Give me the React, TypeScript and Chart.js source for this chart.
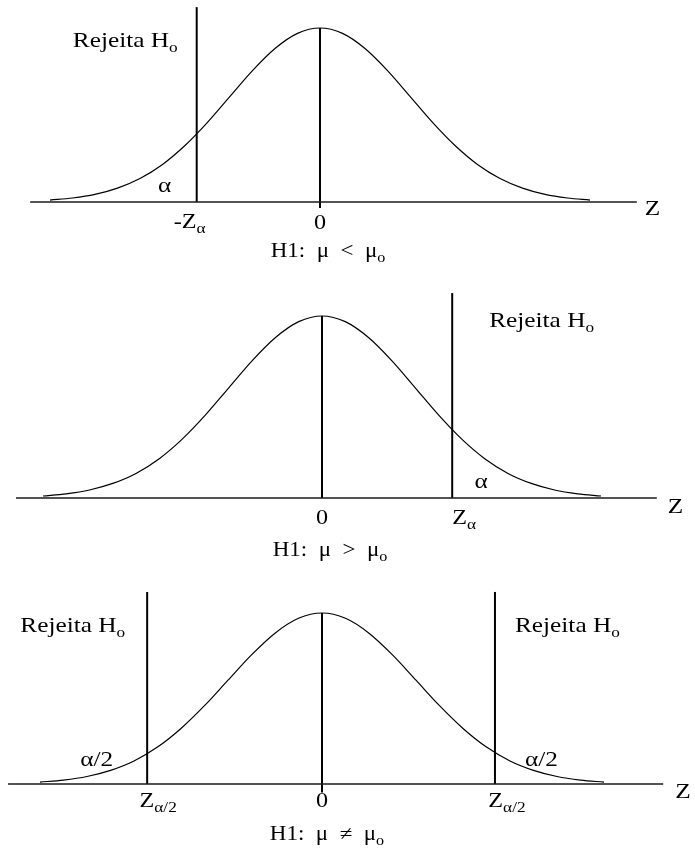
import React, { useEffect, useRef } from "react";
import { Chart, registerables } from "chart.js";

Chart.register(...registerables);

// Standard normal density (peak scaled to 1), sampled every 0.25 in z
const curveZ = [-3, -2.75, -2.5, -2.25, -2, -1.75, -1.5, -1.25, -1, -0.75, -0.5, -0.25, 0, 0.25, 0.5, 0.75, 1, 1.25, 1.5, 1.75, 2, 2.25, 2.5, 2.75, 3];
const curveH = [0.011, 0.023, 0.044, 0.08, 0.135, 0.216, 0.325, 0.458, 0.607, 0.755, 0.882, 0.969, 1, 0.969, 0.882, 0.755, 0.607, 0.458, 0.325, 0.216, 0.135, 0.08, 0.044, 0.023, 0.011];

// Critical values of each test
const critLower = [-1.37];
const critUpper = [1.4];
const critTwoSided = [-1.86, 1.84];

// Hypothesis captions (the subscript "o" is added when drawn)
const hypotheses = ["H1:  μ  <  μ", "H1:  μ  >  μ", "H1:  μ  ≠  μ"];
const rejectText = "Rejeita H";

const FONT = '"Liberation Serif", "Times New Roman", serif';
const STRETCH = 1.15;

type Part = { t: string; sub?: boolean };
type Label = {
  parts: Part[];
  x: number;
  y: number;
  dx?: number;
  dy?: number;
  align?: "left" | "center" | "right";
  size?: number;
  subSize?: number;
  subDrop?: number;
};

type Panel = {
  top: number;
  height: number;
  pad: { left: number; right: number; top: number; bottom: number };
  crits: number[];
  axis: [number, number];
  stemBottom: number;
  critTop: number;
  labels: Label[];
};

const rej: Part[] = [{ t: rejectText }, { t: "o", sub: true }];
const hyp = (i: number): Part[] => [{ t: hypotheses[i] }, { t: "o", sub: true }];
const TICK = 21;
const CAP = 20;

const panels: Panel[] = [
  {
    top: 0,
    height: 270,
    pad: { left: 50, right: 105, top: 28, bottom: 68 },
    crits: critLower,
    axis: [-3.22, 3.52],
    stemBottom: -0.035,
    critTop: 1.12,
    labels: [
      { parts: rej, x: critLower[0], y: 0.891, dx: -19, align: "right" },
      { parts: [{ t: "α" }], x: critLower[0], y: 0, dx: -32, dy: -10, align: "center" },
      { parts: [{ t: "-Z" }, { t: "α", sub: true }], x: critLower[0], y: 0, dx: -7, dy: 26, align: "center", size: TICK },
      { parts: [{ t: "0" }], x: 0, y: 0, dy: 27, align: "center", size: TICK },
      { parts: hyp(0), x: 0, y: 0, dx: 8, dy: 55, align: "center", size: CAP, subSize: 14 },
      { parts: [{ t: "Z" }], x: 3.52, y: 0, dx: 8, dy: 13, align: "left" },
    ],
  },
  {
    top: 270,
    height: 300,
    pad: { left: 43, right: 94, top: 46, bottom: 72 },
    crits: critUpper,
    axis: [-3.29, 3.6],
    stemBottom: 0,
    critTop: 1.126,
    labels: [
      { parts: rej, x: critUpper[0], y: 0.94, dx: 37, align: "left" },
      { parts: [{ t: "α" }], x: critUpper[0], y: 0, dx: 29, dy: -10, align: "center" },
      { parts: [{ t: "Z" }, { t: "α", sub: true }], x: critUpper[0], y: 0, dx: 12, dy: 26, align: "center", size: TICK },
      { parts: [{ t: "0" }], x: 0, y: 0, dy: 26, align: "center", size: TICK },
      { parts: hyp(1), x: 0, y: 0, dx: 8, dy: 58, align: "center", size: CAP, subSize: 14 },
      { parts: [{ t: "Z" }], x: 3.6, y: 0, dx: 11, dy: 15, align: "left" },
    ],
  },
  {
    top: 570,
    height: 278,
    pad: { left: 40, right: 91, top: 43, bottom: 64 },
    crits: critTwoSided,
    axis: [-3.34, 3.63],
    stemBottom: -0.05,
    critTop: 1.123,
    labels: [
      { parts: rej, x: critTwoSided[0], y: 0.889, dx: -22, align: "right" },
      { parts: rej, x: critTwoSided[1], y: 0.889, dx: 20, align: "left" },
      { parts: [{ t: "α/2" }], x: critTwoSided[0], y: 0, dx: -34, dy: -18, align: "right" },
      { parts: [{ t: "α/2" }], x: critTwoSided[1], y: 0, dx: 30, dy: -18, align: "left" },
      { parts: [{ t: "Z" }, { t: "α/2", sub: true }], x: critTwoSided[0], y: 0, dx: 11, dy: 23, align: "center", size: TICK },
      { parts: [{ t: "Z" }, { t: "α/2", sub: true }], x: critTwoSided[1], y: 0, dx: 12, dy: 23, align: "center", size: TICK },
      { parts: [{ t: "0" }], x: 0, y: 0, dy: 23, align: "center", size: TICK },
      { parts: hyp(2), x: 0, y: 0, dx: 5, dy: 56, align: "center", size: CAP, subSize: 14 },
      { parts: [{ t: "Z" }], x: 3.63, y: 0, dx: 12, dy: 14, align: "left" },
    ],
  },
];

function drawLabel(chart: any, lab: Label) {
  const ctx: CanvasRenderingContext2D = chart.ctx;
  const px = chart.scales.x.getPixelForValue(lab.x) + (lab.dx || 0);
  const py = chart.scales.y.getPixelForValue(lab.y) + (lab.dy || 0);
  const size = lab.size ?? 22;
  const subSize = lab.subSize ?? 15;
  const drop = lab.subDrop ?? 5;
  const fontOf = (p: Part) => `${p.sub ? subSize : size}px ${FONT}`;
  const widths = lab.parts.map((p) => {
    ctx.font = fontOf(p);
    return ctx.measureText(p.t).width * STRETCH;
  });
  const total = widths.reduce((a, b) => a + b, 0);
  let x = lab.align === "center" ? px - total / 2 : lab.align === "right" ? px - total : px;
  lab.parts.forEach((p, i) => {
    ctx.save();
    ctx.font = fontOf(p);
    ctx.fillStyle = "#000";
    ctx.textBaseline = "alphabetic";
    ctx.textAlign = "left";
    ctx.translate(x, py + (p.sub ? drop : 0));
    ctx.scale(STRETCH, 1);
    ctx.fillText(p.t, 0, 0);
    ctx.restore();
    x += widths[i];
  });
}

function NormalPanel({ panel }: { panel: Panel }) {
  const ref = useRef<HTMLCanvasElement | null>(null);

  useEffect(() => {
    if (!ref.current) return;
    const line = (data: { x: number; y: number }[], width: number, color = "#000") => ({
      data,
      borderColor: color,
      borderWidth: width,
      pointRadius: 0,
      fill: false,
      clip: false as any,
      tension: 0,
    });
    const chart = new Chart(ref.current, {
      type: "line",
      data: {
        datasets: [
          {
            ...line(curveZ.map((z, i) => ({ x: z, y: curveH[i] })), 1.2),
            cubicInterpolationMode: "monotone",
          },
          line([{ x: panel.axis[0], y: 0 }, { x: panel.axis[1], y: 0 }], 1.6, "#1a1a1a"),
          line([{ x: 0, y: panel.stemBottom }, { x: 0, y: 1 }], 2),
          ...panel.crits.map((c) => line([{ x: c, y: 0 }, { x: c, y: panel.critTop }], 2)),
        ] as any,
      },
      options: {
        animation: false,
        responsive: false,
        events: [],
        layout: { padding: panel.pad },
        scales: {
          x: { type: "linear", min: -3, max: 3, display: false },
          y: { type: "linear", min: 0, max: 1, display: false },
        },
        plugins: { legend: { display: false }, tooltip: { enabled: false } },
      },
      plugins: [
        {
          id: "panelText",
          afterDatasetsDraw(c: any) {
            panel.labels.forEach((lab) => drawLabel(c, lab));
          },
        },
      ],
    });
    return () => chart.destroy();
  }, [panel]);

  return (
    <canvas
      ref={ref}
      width={695}
      height={panel.height}
      style={{ position: "absolute", left: 0, top: panel.top, width: 695, height: panel.height }}
    />
  );
}

export default function App() {
  useEffect(() => {
    document.body.style.margin = "0";
    document.body.style.background = "#fff";
  }, []);
  return (
    <div style={{ position: "relative", width: 695, height: 848, background: "#fff", overflow: "hidden" }}>
      {panels.map((p, i) => (
        <NormalPanel key={i} panel={p} />
      ))}
    </div>
  );
}
